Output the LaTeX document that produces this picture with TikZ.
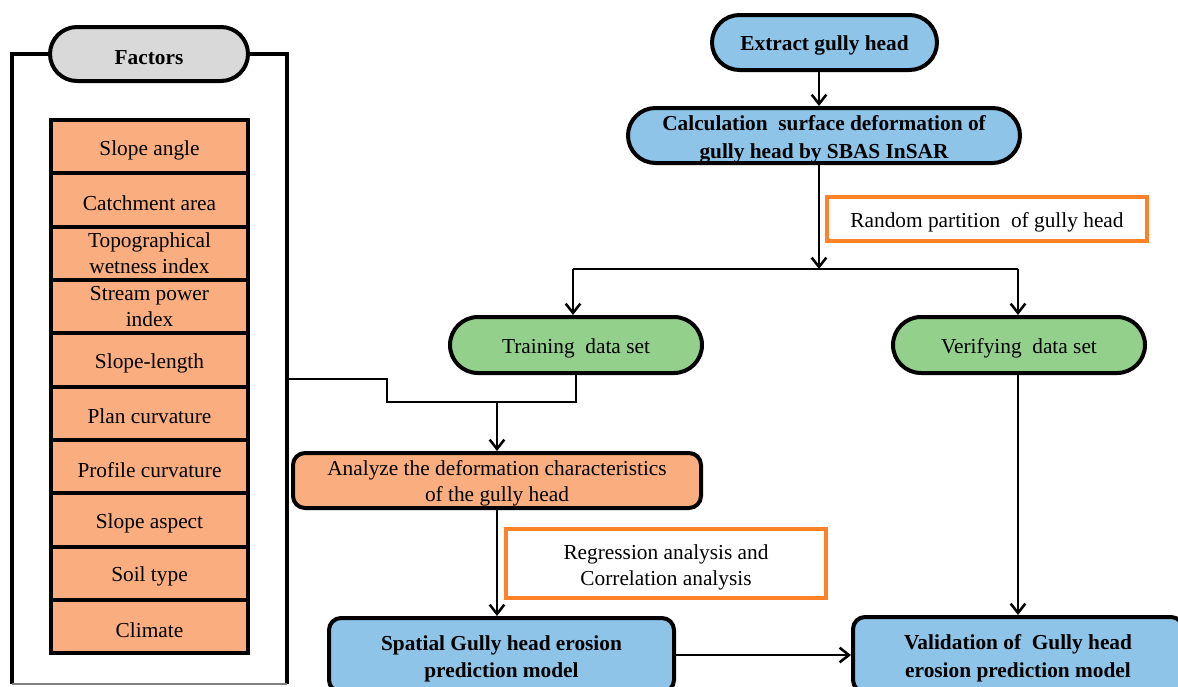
\documentclass[tikz,border=0pt]{standalone}
\usepackage{fontspec}
\setmainfont{Liberation Serif}
\usetikzlibrary{arrows.meta,shapes.misc}
\definecolor{boxblue}{HTML}{8DC4E8}
\definecolor{boxgreen}{HTML}{93D08C}
\definecolor{boxorange}{HTML}{FAAE7F}
\definecolor{boxgray}{HTML}{D9D9D9}
\definecolor{lineorange}{HTML}{FF8229}
\newcommand{\xsp}{\hspace{0.25em}}
\newcommand{\lift}{\rule{0pt}{17pt}}
\begin{document}
\begin{tikzpicture}[x=0.75pt,y=-0.75pt,
  every node/.style={font=\fontsize{16}{19.5}\selectfont, align=center, inner sep=0pt,
    execute at begin node={\rule{0pt}{16pt}}},
  ml/.style={execute at begin node={}},
  pill/.style={rounded rectangle, draw, line width=3pt},
  rbox/.style={rectangle, rounded corners=9pt, draw, line width=3pt},
  factor/.style={rectangle, draw, line width=3pt, fill=boxorange, minimum width=147.75pt, minimum height=40pt},
  note/.style={rectangle, draw=lineorange, line width=2.6pt, fill=white},
  conn/.style={line width=1.9pt},
  arr/.style={conn, -{Straight Barb[length=7pt,width=11pt]}},
  frameline/.style={line width=2.8pt}]
\useasboundingbox (0,0) rectangle (1178,686);

% ---------- Factors frame ----------
\coordinate (ftl) at (12,54);
\coordinate (ftr) at (287,54);
\coordinate (fbl) at (12,684);
\coordinate (fbr) at (287,684);
\draw[frameline] (50,54) -- (ftl) -- (fbl);
\draw[frameline] (248,54) -- (ftr) -- (fbr);
\draw[line width=1.2pt, gray] (fbl) -- (fbr);
\node[pill, fill=boxgray, minimum width=148.5pt, minimum height=40.5pt, font=\fontsize{16}{19.5}\selectfont\bfseries] (factors) at (149,54) {Factors};

\node[factor] (f1)  at (149.5,146.7) {Slope angle};
\node[factor] (f2)  at (149.5,200.0) {Catchment area};
\node[factor, ml] (f3)  at (149.5,253.3) {Topographical\\wetness index};
\node[factor, ml] (f4)  at (149.5,306.6) {Stream power\\index};
\node[factor] (f5)  at (149.5,360.0) {Slope-length};
\node[factor] (f6)  at (149.5,413.3) {Plan curvature};
\node[factor] (f7)  at (149.5,466.6) {Profile curvature};
\node[factor] (f8)  at (149.5,520.0) {Slope aspect};
\node[factor] (f9)  at (149.5,573.3) {Soil type};
\node[factor] (f10) at (149.5,626.6) {Climate};

% ---------- Main flow ----------
\node[pill, fill=boxblue, minimum width=168.75pt, minimum height=41.25pt, font=\fontsize{16}{19.5}\selectfont\bfseries] (extract) at (824.5,42.5) {Extract gully head};
\node[pill, ml, fill=boxblue, minimum width=294pt, minimum height=41.25pt, font=\fontsize{16}{20.5}\selectfont\bfseries] (calc) at (824,135.5) {\lift Calculation\xsp{} surface deformation of\\gully head by SBAS InSAR};

\node[note, minimum width=240pt, minimum height=33pt] (random) at (987,219) {Random partition\xsp{} of gully head};

\node[pill, fill=boxgreen, minimum width=189pt, minimum height=42pt] (training) at (576,345) {Training\xsp{} data set};
\node[pill, fill=boxgreen, minimum width=189pt, minimum height=42pt] (verifying) at (1019,345) {Verifying\xsp{} data set};

\node[rbox, ml, fill=boxorange, minimum width=306pt, minimum height=41.25pt] (analyze) at (497,480.5) {\rule{0pt}{15pt}Analyze the deformation characteristics\\of the gully head};

\node[note, ml, minimum width=240pt, minimum height=51.75pt] (regression) at (666,563.5) {\lift Regression analysis and\\Correlation analysis};

\node[rbox, ml, fill=boxblue, minimum width=258.75pt, minimum height=55.5pt, font=\fontsize{16}{20.5}\selectfont\bfseries] (spatial) at (501.5,655) {\lift Spatial Gully head erosion\\prediction model};
\node[rbox, ml, fill=boxblue, minimum width=247.5pt, minimum height=56.25pt, font=\fontsize{16}{20.5}\selectfont\bfseries] (validation) at (1018,654.5) {\lift Validation of\xsp{} Gully head\\erosion prediction model};

% ---------- Connectors ----------
\coordinate (spine) at (819,0);
\coordinate (split) at (819,269);
\coordinate (lbr) at (573,269);
\coordinate (rbr) at (1018,269);
\draw[arr] (extract.south -| spine) -- (calc.north -| spine);
\draw[arr] (calc.south -| spine) -- (split);
\draw[conn] (lbr) -- (rbr);
\draw[arr] (lbr) -- (lbr |- training.north);
\draw[arr] (rbr) -- (rbr |- verifying.north);

\coordinate (fr) at (287,379);
\coordinate (b1) at (387,379);
\coordinate (b2) at (387,402);
\draw[conn] (fr) -- (b1) -- (b2) -| (training.south);
\draw[arr] (analyze.north |- b2) -- (analyze.north);

\draw[arr] (analyze.south) -- (analyze.south |- spatial.north);
\draw[arr] (verifying.south -| rbr) -- (validation.north -| rbr);
\draw[arr] (spatial.east) -- (spatial.east -| validation.west);
\end{tikzpicture}
\end{document}
